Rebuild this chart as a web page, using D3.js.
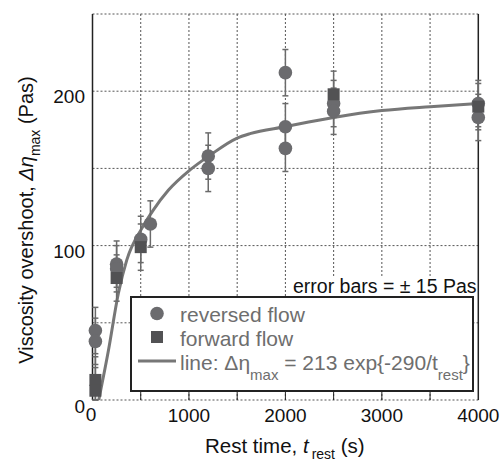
<!DOCTYPE html>
<html><head><meta charset="utf-8">
<script src="https://cdn.jsdelivr.net/npm/d3@7"></script>
<style>
html,body{margin:0;padding:0;background:#fff;}
svg{display:block;font-family:"Liberation Sans",Arial,Helvetica,sans-serif;}
</style></head>
<body><svg id="c" width="500" height="463"></svg>
<script>
// ---- data ----
const reversedT = [30, 30, 250, 250, 500, 600, 1200, 1200, 2000, 2000, 2000, 2500, 2500, 4000, 4000];
const reversedV = [45, 38, 88, 85, 104, 114, 158, 150, 212, 177, 163, 192, 187, 192, 183];
const forwardT = [30, 30, 250, 500, 2500, 4000];
const forwardV = [13, 6, 79, 99, 198, 190];
const fitT = [65, 165, 268, 355, 510, 630, 786, 1011, 1218, 1495, 1633, 1996, 2500, 3000, 3500, 4000];
const fitV = [0, 32, 69, 90.6, 111, 123, 135.8, 149, 158.5, 169.5, 172.5, 177, 183, 187.5, 190, 192];
const errHalf = 15;
const xTicks = [0, 1000, 2000, 3000, 4000];
const yTicks = [0, 100, 200];
const xGrid = [500, 1000, 1500, 2000, 2500, 3000, 3500];
const yGrid = [50, 100, 150, 200, 250];

const svg = d3.select("#c");
const x = d3.scaleLinear().domain([0, 4000]).range([92.5, 478.3]);
const y = d3.scaleLinear().domain([0, 250]).range([400, 14]);

// grid
const g = svg.append("g");
g.selectAll(".gx").data(xGrid).enter().append("line")
  .attr("x1", d => x(d)).attr("x2", d => x(d)).attr("y1", y(0)).attr("y2", y(250))
  .attr("stroke", "#555").attr("stroke-width", 1).attr("stroke-dasharray", "2,2");
g.selectAll(".gy").data(yGrid).enter().append("line")
  .attr("x1", x(0)).attr("x2", x(4000)).attr("y1", d => y(d)).attr("y2", d => y(d))
  .attr("stroke", "#555").attr("stroke-width", 1).attr("stroke-dasharray", "2,2");
// bottom dotted axis
g.append("line").attr("x1", x(0)).attr("x2", x(4000)).attr("y1", y(0)).attr("y2", y(0))
  .attr("stroke", "#555").attr("stroke-width", 1).attr("stroke-dasharray", "2,2");
// bottom inward ticks
g.selectAll(".tk").data(xGrid).enter().append("line")
  .attr("x1", d => x(d)).attr("x2", d => x(d)).attr("y1", y(0)).attr("y2", y(0) - 9)
  .attr("stroke", "#222").attr("stroke-width", 1);
// left / right solid axes
g.append("line").attr("x1", x(0)).attr("x2", x(0)).attr("y1", y(0)).attr("y2", y(250))
  .attr("stroke", "#222").attr("stroke-width", 1.5);
g.append("line").attr("x1", x(4000)).attr("x2", x(4000)).attr("y1", y(0)).attr("y2", y(250))
  .attr("stroke", "#222").attr("stroke-width", 1.5);

// tick labels
svg.selectAll(".xl").data(xTicks.slice(1)).enter().append("text")
  .attr("x", d => x(d)).attr("y", 422).attr("text-anchor", "middle")
  .attr("font-size", 19).attr("fill", "#111").text(d => d);
svg.append("text").attr("x", 91).attr("y", 421).attr("text-anchor", "middle")
  .attr("font-size", 19).attr("fill", "#111").text(xTicks[0]);
svg.selectAll(".yl").data(yTicks).enter().append("text")
  .attr("x", 85).attr("y", d => d === 0 ? 413 : y(d) + 12).attr("text-anchor", "end")
  .attr("font-size", 19).attr("fill", "#111").text(d => d);

// fit curve
const line = d3.line().x(d => x(d[0])).y(d => y(d[1])).curve(d3.curveMonotoneX);
svg.append("path").datum(fitT.map((t, i) => [t, fitV[i]]))
  .attr("d", line).attr("fill", "none").attr("stroke", "#777").attr("stroke-width", 3);

// error bars
const pts = reversedT.map((t, i) => ({t, v: reversedV[i], k: "r"}))
  .concat(forwardT.map((t, i) => ({t, v: forwardV[i], k: "f"})));
const eb = svg.append("g").attr("stroke", "#6a6a6a").attr("stroke-width", 1.5);
pts.forEach(p => {
  const lo = Math.max(0, p.v - errHalf), hi = p.v + errHalf;
  eb.append("line").attr("x1", x(p.t)).attr("x2", x(p.t)).attr("y1", y(lo)).attr("y2", y(hi));
  [lo, hi].forEach(v => eb.append("line").attr("x1", x(p.t) - 3).attr("x2", x(p.t) + 3)
    .attr("y1", y(v)).attr("y2", y(v)));
});

// points
svg.selectAll(".rc").data(pts.filter(p => p.k === "r")).enter().append("circle")
  .attr("cx", d => x(d.t)).attr("cy", d => y(d.v)).attr("r", 6.8).attr("fill", "#6b6b6e");
svg.selectAll(".fs").data(pts.filter(p => p.k === "f")).enter().append("rect")
  .attr("x", d => x(d.t) - 6).attr("y", d => y(d.v) - 6).attr("width", 12).attr("height", 12)
  .attr("fill", "#525254");

// error bars note
svg.append("rect").attr("x", 291).attr("y", 276).attr("width", 185).attr("height", 20).attr("fill", "#fff");
svg.append("text").attr("x", 293).attr("y", 293).attr("font-size", 19.5).attr("fill", "#111")
  .text("error bars = \u00b1 15 Pas");

// legend
svg.append("rect").attr("x", 131).attr("y", 297).attr("width", 342).attr("height", 94)
  .attr("fill", "#fff").attr("stroke", "#222").attr("stroke-width", 2);
svg.append("circle").attr("cx", 157).attr("cy", 313.5).attr("r", 6.8).attr("fill", "#6b6b6e");
svg.append("rect").attr("x", 151).attr("y", 331).attr("width", 12).attr("height", 12).attr("fill", "#525254");
svg.append("line").attr("x1", 138).attr("x2", 176).attr("y1", 361).attr("y2", 361)
  .attr("stroke", "#777").attr("stroke-width", 3);
const lt = {fill: "#6e6e6e", size: 21};
svg.append("text").attr("x", 180).attr("y", 321.5).attr("font-size", lt.size).attr("fill", lt.fill).text("reversed flow");
svg.append("text").attr("x", 180).attr("y", 345.5).attr("font-size", lt.size).attr("fill", lt.fill).text("forward flow");
const t3 = svg.append("text").attr("x", 180).attr("y", 369.5).attr("font-size", lt.size).attr("fill", lt.fill);
t3.append("tspan").text("line: \u0394\u03b7");
t3.append("tspan").attr("font-size", 15).attr("dy", 10).text("max");
t3.append("tspan").attr("dy", -10).text(" = 213 exp{-290/t");
t3.append("tspan").attr("font-size", 15).attr("dy", 10).text("rest");
t3.append("tspan").attr("dy", -10).text("}");

// axis titles
const xt = svg.append("text").attr("x", 205).attr("y", 453).attr("font-size", 20.5).attr("fill", "#111");
xt.append("tspan").text("Rest time, ");
xt.append("tspan").attr("font-style", "italic").text("t");
xt.append("tspan").attr("font-size", 14).attr("dy", 6).attr("dx", 3).text("rest");
xt.append("tspan").attr("dy", -6).text(" (s)");

const yt = svg.append("text").attr("transform", "translate(33,220) rotate(-90)")
  .attr("text-anchor", "middle").attr("font-size", 20).attr("fill", "#111");
yt.append("tspan").text("Viscosity overshoot, ");
yt.append("tspan").attr("font-style", "italic").text("\u0394\u03b7");
yt.append("tspan").attr("font-size", 14).attr("dy", 7).text("max");
yt.append("tspan").attr("dy", -7).text(" (Pas)");
</script></body></html>
